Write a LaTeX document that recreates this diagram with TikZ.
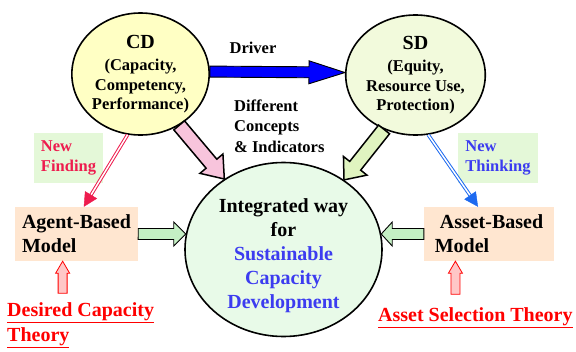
\documentclass[tikz,border=0pt]{standalone}
\usepackage{fontspec}
\setmainfont{Liberation Serif}
\usetikzlibrary{shapes.geometric, positioning, arrows.meta, calc}

\definecolor{cdfill}{HTML}{FFFFC4}
\definecolor{sdfill}{HTML}{F2FADC}
\definecolor{ctrfill}{HTML}{E8FAE8}
\definecolor{boxfill}{HTML}{FFE6D0}
\definecolor{hintfill}{HTML}{E4F8D8}
\definecolor{findred}{HTML}{EE1C4E}
\definecolor{thinkblue}{HTML}{1E6AF0}
\definecolor{textblue}{HTML}{3C3CF0}
\definecolor{pinkarr}{HTML}{F8C4DC}
\definecolor{limearr}{HTML}{E0F4C0}
\definecolor{greenarr}{HTML}{C4F0C4}

\newcommand{\sizemid}{\fontsize{16.5}{19.5}\selectfont\bfseries}
\newcommand{\sizebig}{\fontsize{20}{24}\selectfont\bfseries}
\newcommand{\sizetheory}{\fontsize{20}{25}\selectfont\bfseries}

% block arrow: [style]{tail}{tip}{half shaft}{half head}{head length}
\newcommand{\fatarrow}[6][]{%
  \coordinate (fa-h) at ($(#3)!#6!(#2)$);
  \filldraw[#1] ($(#2)!#4!90:(#3)$) -- ($(fa-h)!#4!90:(#3)$) -- ($(fa-h)!#5!90:(#3)$)
    -- (#3) -- ($(fa-h)!#5!-90:(#3)$) -- ($(fa-h)!#4!-90:(#3)$) -- ($(#2)!#4!-90:(#3)$) -- cycle;}

\begin{document}
\begin{tikzpicture}[x=1pt, y=-1pt,
    bubble/.style={ellipse, draw, line width=1.6pt, inner sep=0pt, align=center, font=\sizemid},
    hintbox/.style={rectangle, fill=hintfill, inner sep=0pt, minimum height=50pt, align=left, font=\sizemid},
    modelbox/.style={rectangle, fill=boxfill, inner sep=0pt, minimum height=54pt, align=left, font=\sizebig},
    plaintext/.style={inner sep=0pt, align=left, font=\sizemid},
    theory/.style={inner sep=0pt, align=left, text=red, font=\sizetheory},
    dblline/.style={line width=1pt, double=white, double distance=1.5pt, shorten >=13pt},
    dbltip/.style={-{Triangle[length=14pt, width=14pt]}},
    bigarrow/.style={line width=1.5pt, draw=black},
    smallarrow/.style={line width=0.9pt, draw=black},
    uparrow/.style={line width=0.8pt, draw=red, fill=red!22}]

  \useasboundingbox (0,0) rectangle (576,351);

  % hint boxes and models
  \node[hintbox, minimum width=69pt, text=findred] (newfind) at (68.5,158) {New\\Finding};
  \node[hintbox, minimum width=80pt, text=textblue] (newthink) at (498,158) {New\\Thinking};
  \node[modelbox, minimum width=123pt] (agent) at (76.5,234) {Agent-Based\\Model};
  \node[modelbox, minimum width=130pt] (asset) at (489,234) {\hspace*{5pt}Asset-Based\\Model};

  % theories
  \node[theory, anchor=north west] (desired) at (7,302) {\underline{Desired Capacity}\\\underline{Theory}};
  \node[theory, anchor=north west] (selection) at (378,307) {\underline{Asset Selection Theory}};

  % the three circles
  \node[bubble, fill=cdfill, minimum width=135pt, minimum height=122pt] (cd) at (140.5,74)
    {{\fontsize{20}{20}\selectfont CD}\\[3pt](Capacity,\\Competency,\\Performance)};
  \node[bubble, fill=sdfill, minimum width=135pt, minimum height=120pt] (sd) at (415.5,75)
    {{\fontsize{20}{20}\selectfont SD}\\[3pt](Equity,\\Resource Use,\\Protection)};
  \node[bubble, fill=ctrfill, minimum width=197pt, minimum height=174pt] (ctr) at (283.5,249.5) {};
  \node[plaintext, align=center, font=\sizebig] (ctrtext) at ($(ctr)+(0,6)$)
    {Integrated way\\for\\\textcolor{textblue}{Sustainable}\\\textcolor{textblue}{Capacity}\\\textcolor{textblue}{Development}};

  % labels
  \node[plaintext] (drv) at (253,48) {Driver};
  \node[plaintext, anchor=north west, font=\fontsize{16.5}{20.5}\selectfont\bfseries] (concepts) at (234,99.5)
    {Different\\Concepts\\\& Indicators};

  % double lines
  \draw[dblline, findred] (cd.-102) -- (agent.75);
  \draw[dbltip, findred] ($(agent.75)!14pt!(cd.-102)$) -- (agent.75);
  \draw[dblline, thinkblue] (sd.-78) -- (asset.112);
  \draw[dbltip, thinkblue] ($(asset.112)!14pt!(sd.-78)$) -- (asset.112);

  % block arrows
  \fatarrow[smallarrow, fill=blue]{cd.2}{sd.178}{5.5pt}{11.5pt}{36pt}
  \fatarrow[bigarrow, fill=pinkarr]{cd.-53}{ctr.130}{7pt}{15pt}{20pt}
  \fatarrow[bigarrow, fill=limearr]{sd.-120}{ctr.49}{7pt}{15pt}{18pt}
  \fatarrow[smallarrow, fill=greenarr]{agent.east}{ctr.171}{5.5pt}{12pt}{12pt}
  \fatarrow[smallarrow, fill=greenarr]{asset.west}{ctr.9}{5.5pt}{12pt}{11pt}

  % theory arrows
  \coordinate (dtail) at ($(agent.-117)+(0,32)$);
  \coordinate (stail) at ($(asset.-141)+(0,33)$);
  \fatarrow[uparrow]{dtail}{agent.-117}{4.5pt}{7pt}{12pt}
  \fatarrow[uparrow]{stail}{asset.-141}{4.5pt}{7pt}{12pt}

\end{tikzpicture}
\end{document}
